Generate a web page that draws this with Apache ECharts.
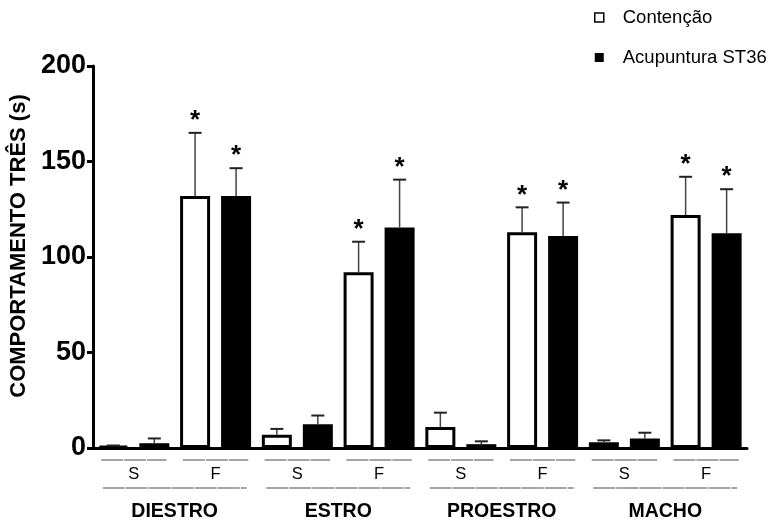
<!DOCTYPE html>
<html>
<head>
<meta charset="utf-8">
<script src="https://cdn.jsdelivr.net/npm/echarts@6/dist/echarts.min.js"></script>
<style>html,body{margin:0;padding:0;background:#fff}#c{width:774px;height:522px}</style>
</head>
<body>
<div id="c"></div>
<script>
// ---- data ----
var categories = ['S', 'F', 'S', 'F', 'S', 'F', 'S', 'F'];
var groups = ['DIESTRO', 'ESTRO', 'PROESTRO', 'MACHO'];
var contencao = [1, 132, 7, 92, 11, 113, 3, 122];
var contencaoErr = [0.3, 33, 3, 16, 7.5, 13, 1, 20];
var contencaoSig = [0, 1, 0, 1, 0, 1, 0, 1];
var acupuntura = [2.5, 132, 12.5, 115.5, 2, 111, 5, 112.5];
var acupunturaErr = [2.5, 14.5, 4.5, 25, 1.5, 17.5, 3, 23];
var acupunturaSig = [0, 1, 0, 1, 0, 1, 0, 1];
var yTicks = [0, 50, 100, 150, 200];

// ---- layout constants ----
var FONT = 'Arial, "Liberation Sans", sans-serif';
var BAR_W = 30, BAR_GAP_PX = 11;
var OFFSET = (BAR_W + BAR_GAP_PX) / 2;

var chart = echarts.init(document.getElementById('c'));

function errSeries(name, vals, errs, sigs, dir) {
  var data = vals.map(function (v, i) { return [i, v, errs[i], sigs[i]]; });
  return {
    type: 'custom',
    name: name + ' err',
    xAxisIndex: 0, yAxisIndex: 0,
    clip: false,
    z: 5,
    silent: true,
    data: data,
    renderItem: function (params, api) {
      var i = api.value(0), v = api.value(1), e = api.value(2), s = api.value(3);
      var p0 = api.coord([i, v]);
      var p1 = api.coord([i, v + e]);
      var x = p0[0] + dir * OFFSET;
      var children = [
        { type: 'line', shape: { x1: x, y1: p0[1], x2: x, y2: p1[1] }, style: { stroke: '#444', lineWidth: 1.5 } },
        { type: 'line', shape: { x1: x - 6.5, y1: p1[1], x2: x + 6.5, y2: p1[1] }, style: { stroke: '#222', lineWidth: 2 } }
      ];
      if (s) {
        children.push({ type: 'text', style: { text: '*', x: x, y: p1[1] - 12, align: 'center', verticalAlign: 'middle', font: 'bold 26px ' + FONT, fill: '#000' } });
      }
      return { type: 'group', children: children };
    }
  };
}

var option = {
  animation: false,
  backgroundColor: '#fff',
  grid: { left: 88, right: 27, top: 66, bottom: 74, containLabel: false },
  legend: {
    orient: 'vertical',
    left: 589, top: 3,
    itemWidth: 9, itemHeight: 9, itemGap: 21,
    icon: 'rect',
    textStyle: { fontFamily: FONT, fontSize: 18.5, color: '#000', padding: [0, 0, 0, 14] },
    data: [
      { name: 'Contenção', itemStyle: { color: '#fff', borderColor: '#000', borderWidth: 1.5 } },
      { name: 'Acupuntura ST36', itemStyle: { color: '#000', borderColor: '#000', borderWidth: 0 } }
    ]
  },
  xAxis: [
    {
      type: 'category', data: categories, position: 'bottom',
      axisLine: { lineStyle: { color: '#000', width: 3 } },
      axisTick: { show: false },
      axisLabel: { margin: 18, fontFamily: FONT, fontSize: 16.5, color: '#000' }
    },
    {
      type: 'category', data: groups, position: 'bottom',
      axisLine: { show: false }, axisTick: { show: false },
      axisLabel: { margin: 54, fontFamily: FONT, fontSize: 19.5, fontWeight: 'bold', color: '#000' }
    }
  ],
  yAxis: {
    type: 'value', min: 0, max: 200, interval: 50,
    name: 'COMPORTAMENTO TRÊS (s)', nameLocation: 'middle', nameRotate: 90, nameGap: 58,
    nameTextStyle: { fontFamily: FONT, fontSize: 22, fontWeight: 'bold', color: '#000', padding: [0, 0, 0, 22] },
    axisLine: { show: true, lineStyle: { color: '#000', width: 3 } },
    axisTick: { show: true, length: 6, lineStyle: { color: '#000', width: 3 } },
    axisLabel: {
      margin: 7, fontFamily: FONT, fontSize: 27, fontWeight: 'bold', color: '#000',
      formatter: function (v) { return yTicks.indexOf(v) >= 0 ? String(v) : ''; }
    },
    splitLine: { show: false }
  },
  series: [
    {
      name: 'Contenção', type: 'bar', data: contencao, barWidth: BAR_W,
      barGap: (BAR_GAP_PX / BAR_W * 100) + '%',
      itemStyle: { color: '#fff', borderColor: '#000', borderWidth: 3 }
    },
    {
      name: 'Acupuntura ST36', type: 'bar', data: acupuntura, barWidth: BAR_W,
      barGap: (BAR_GAP_PX / BAR_W * 100) + '%',
      itemStyle: { color: '#000', borderColor: '#000', borderWidth: 3 }
    },
    errSeries('Contenção', contencao, contencaoErr, contencaoSig, -1),
    errSeries('Acupuntura ST36', acupuntura, acupunturaErr, acupunturaSig, 1),
    {
      type: 'custom', name: 'catLines', xAxisIndex: 0, yAxisIndex: 0, clip: false, silent: true,
      data: categories.map(function (c, i) { return [i]; }),
      renderItem: function (params, api) {
        var p = api.coord([api.value(0), 0]);
        var bw = api.size([1, 0])[0];
        var h = bw * 0.4;
        return { type: 'line', shape: { x1: p[0] - h, y1: p[1] + 12, x2: p[0] + h, y2: p[1] + 12 },
          style: { stroke: '#888', lineWidth: 1.5, lineDash: [22, 1] } };
      }
    },
    {
      type: 'custom', name: 'groupLines', xAxisIndex: 1, yAxisIndex: 0, clip: false, silent: true,
      data: groups.map(function (g, i) { return [i]; }),
      renderItem: function (params, api) {
        var p = api.coord([api.value(0), 0]);
        var bw = api.size([1, 0])[0];
        var h = bw * 0.44;
        return { type: 'line', shape: { x1: p[0] - h, y1: p[1] + 40, x2: p[0] + h, y2: p[1] + 40 },
          style: { stroke: '#888', lineWidth: 1.5, lineDash: [22, 1] } };
      }
    }
  ]
};
chart.setOption(option);
</script>
</body>
</html>
